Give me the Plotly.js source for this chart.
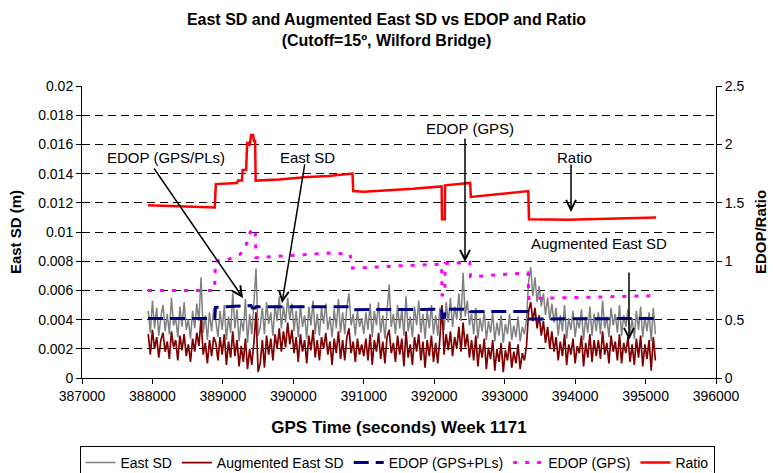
<!DOCTYPE html>
<html>
<head>
<meta charset="utf-8">
<script src="https://cdn.plot.ly/plotly-3.0.1.min.js"></script>
<style>html,body{margin:0;padding:0;background:#fff}#chart{width:773px;height:473px}</style>
</head>
<body>
<div id="chart"></div>
<script>
// Noisy series: sampled every 30 s starting at 387940 s (values in mm)
const sdStartTime = 387940;
const sdInterval = 30;
const eastSdMm = [
  4.6,3.1,5.3,3.4,4.8,2.9,4.2,5.0,3.2,4.4, 3.0,5.5,3.6,4.1,2.8,4.9,3.5,5.2,3.3,4.0, 2.7,4.6,3.4,5.1,3.9,6.9,3.1,4.3,2.6,4.5,3.2,4.8,
  3.9,2.8,4.6,3.3,5.0,2.6,4.2,3.1,5.8,3.4, 4.7,2.5,4.0,3.2,5.4,2.4,4.4,3.0,5.1,7.5, 2.9,
  3.5,4.8,3.0,5.2,3.7,4.5,2.9,5.0,3.9,5.6, 3.4,4.9,3.8,5.5,4.0,5.1,
  3.2,4.6,2.8,5.0,3.5,4.3,2.7,4.9,3.6,5.3, 3.0,4.4,2.9,4.8,3.7,5.1,3.3,4.2,2.8,4.7, 3.4,5.4,3.1,4.5,3.0,4.9,5.8,3.6,4.4,2.9, 4.6,3.5,4.1,
  3.0,4.5,3.3,5.1,2.8,4.6,3.6,5.2,3.1,4.3, 2.7,4.8,6.4,3.5,4.4,3.0,5.0,3.4,4.7,2.9, 5.6,3.2,4.2,2.8,4.9,3.6,5.3,3.1,4.4,2.7, 4.6,3.4,5.0,3.0,4.3,2.9,4.8,
  4.5,3.3,5.2,3.8,5.5,3.5,4.9,4.0,5.8,3.9,7.2,4.2,5.3,3.6,
  4.4,3.0,4.8,2.7,4.1,3.2,4.6,2.6,3.9,3.1, 4.5,2.5,3.8,2.9,4.3,2.4,3.7,3.0,4.4,2.6, 3.6,2.8,4.2,2.5,3.5,3.0,4.0,
  6.6,7.6,5.6,6.9,5.2,6.3,4.9,5.8,4.3,5.5,4.0,5.1,3.8,
  4.8,2.9,4.3,3.2,5.0,2.7,4.1,3.3,4.6,2.8, 4.0,3.4,4.7,2.6,4.2,3.1,4.9,2.9,4.4,3.2,
  4.5,3.0,5.3,3.4,4.2,2.8,4.8,3.6,4.4,3.1, 5.0,2.9,4.3,3.5,4.7,3.0,4.1,2.7,4.6,3.3, 4.9,2.8,4.2,3.2,4.5,2.5,4.8,3.0
];
const augEastSdMm = [
  3.0,1.6,3.3,2.0,2.8,1.4,2.6,3.1,1.8,2.5, 1.3,3.2,2.1,2.6,1.2,2.9,1.9,3.0,1.5,2.3, 1.1,2.7,1.8,3.1,2.2,4.1,1.6,2.4,1.0,2.6,1.5,2.8,
  2.4,1.2,2.8,1.6,3.0,0.9,2.5,1.4,3.2,1.5, 2.6,0.8,2.2,1.1,2.7,0.6,2.0,0.9,2.4,4.5, 0.4,
  1.0,2.6,0.7,2.9,1.6,2.7,1.2,3.0,2.0,3.4, 1.8,3.2,2.1,3.8,2.3,3.3,
  1.7,2.8,1.1,3.0,1.8,2.6,1.0,2.9,1.9,3.3, 1.4,2.6,1.2,2.8,2.0,3.1,1.6,2.5,0.9,2.7, 1.7,3.2,1.3,2.6,1.2,2.8,3.4,1.7,2.5,1.1, 2.7,1.6,2.3,
  1.5,2.7,1.2,3.0,0.9,2.6,1.8,3.1,1.3,2.5, 1.0,2.8,3.3,1.7,2.4,1.1,2.9,1.6,2.7,0.8, 3.2,1.4,2.3,0.9,2.8,1.8,3.0,1.2,2.5,0.7, 2.6,1.5,2.9,1.1,2.4,1.0,2.7,
  5.0,1.6,3.0,1.9,3.2,1.5,2.8,2.0,3.5,1.8,3.8,2.1,3.0,1.4,
  2.6,1.2,2.9,0.8,2.3,1.4,2.7,0.6,2.1,1.3, 2.6,0.5,2.0,1.1,2.4,0.4,1.9,1.2,2.5,0.7, 1.8,1.0,2.3,0.6,1.7,1.2,2.2,
  4.6,5.2,3.9,4.8,3.4,4.3,2.9,3.9,2.4,3.5,2.0,3.2,1.8,
  2.8,1.2,2.5,1.5,3.0,0.9,2.3,1.6,2.7,1.0, 2.2,1.7,2.9,0.8,2.4,1.4,3.0,1.1,2.6,1.5,
  2.6,1.3,3.2,1.6,2.4,1.0,2.9,1.8,2.5,1.2, 3.0,1.0,2.4,1.7,2.8,1.1,2.3,0.9,2.7,1.4, 2.9,0.8,2.3,1.3,2.6,0.5,2.8,1.2
];

// Step series (right axis)
const ratioTime = [387937,388400,388885,388900,389200,389215,389270,389280,389330,389345,389380,389400,389430,389440,389458,389465,389800,390200,390500,390840,390850,391000,391300,391700,392105,392110,392150,392155,392510,392520,393335,393345,393900,395150];
const ratioValue = [1.48,1.47,1.46,1.66,1.67,1.69,1.69,1.78,1.78,2.02,1.99,2.08,2.08,2.03,2.03,1.69,1.70,1.72,1.73,1.75,1.60,1.595,1.605,1.62,1.64,1.36,1.36,1.65,1.67,1.55,1.60,1.36,1.355,1.375];

const edopGpsTime = [387937,388880,388895,389100,389250,389330,389370,389410,389450,389460,389470,390000,390500,390805,390840,391500,392105,392110,392150,392155,392505,392515,393330,393345,395150];
const edopGpsValue = [0.75,0.75,1.00,1.02,1.06,1.14,1.22,1.28,1.26,1.26,1.03,1.05,1.07,1.06,0.94,0.96,0.975,0.71,0.71,0.98,0.99,0.867,0.90,0.68,0.705];

const edopPlsTime = [387937,388885,388895,389250,389400,389420,389460,389470,390805,390840,392105,392110,392150,392155,392505,392515,393330,393345,395150];
const edopPlsValue = [0.51,0.51,0.605,0.615,0.62,0.60,0.60,0.61,0.61,0.585,0.588,0.52,0.52,0.588,0.588,0.568,0.57,0.505,0.51];

const seriesNames = ['East SD','Augmented East SD','EDOP (GPS+PLs)','EDOP (GPS)','Ratio'];

const sdTimes = eastSdMm.map((_, i) => sdStartTime + i * sdInterval);
const toMetres = a => a.map(v => v / 1000);

const FONT = 'Arial, "Liberation Sans", sans-serif';

const traces = [
  {x: sdTimes, y: toMetres(eastSdMm), name: seriesNames[0], type: 'scatter', mode: 'lines',
   line: {color: '#808080', width: 1.5}, yaxis: 'y'},
  {x: sdTimes, y: toMetres(augEastSdMm), name: seriesNames[1], type: 'scatter', mode: 'lines',
   line: {color: '#800000', width: 1.7}, yaxis: 'y'},
  {x: edopPlsTime, y: edopPlsValue, name: seriesNames[2], type: 'scatter', mode: 'lines',
   line: {color: '#000080', width: 3, dash: '15px,7px'}, yaxis: 'y2'},
  {x: edopGpsTime, y: edopGpsValue, name: seriesNames[3], type: 'scatter', mode: 'lines',
   line: {color: '#ff00ff', width: 3, dash: '4px,8px'}, yaxis: 'y2'},
  {x: ratioTime, y: ratioValue, name: seriesNames[4], type: 'scatter', mode: 'lines',
   line: {color: '#ff0000', width: 2.5}, yaxis: 'y2'}
];

function px2paperX(px){ return (px - 82) / 634; }
function px2paperY(py){ return (378 - py) / 292; }

const labelDefs = [
  {text: 'EDOP (GPS/PLs)', px: 166, py: 157},
  {text: 'East SD', px: 307, py: 157},
  {text: 'EDOP (GPS)', px: 470, py: 128},
  {text: 'Ratio', px: 574, py: 157},
  {text: 'Augmented East SD', px: 599, py: 243}
];
const arrowDefs = [
  {x: 389286, y: 0.00548, ax: -90, ay: -131},
  {x: 389839, y: 0.00514, ax: 23, ay: -140},
  {x: 392437, y: 0.00795, ax: 0, ay: -125},
  {x: 393942, y: 0.01137, ax: 0, ay: -49},
  {x: 394765, y: 0.0026, ax: 0, ay: -69}
];

const annotations = [];
labelDefs.forEach(d => annotations.push({
  text: d.text, xref: 'paper', yref: 'paper', x: px2paperX(d.px), y: px2paperY(d.py),
  xanchor: 'center', yanchor: 'middle', showarrow: false,
  font: {family: FONT, size: 15, color: '#000'}
}));
arrowDefs.forEach(d => annotations.push({
  text: '', xref: 'x', yref: 'y', x: d.x, y: d.y, ax: d.ax, ay: d.ay,
  showarrow: true, arrowhead: 5, arrowsize: 1.3, arrowwidth: 1.5, arrowcolor: '#000'
}));

const layout = {
  width: 773, height: 473,
  margin: {l: 82, r: 57, t: 86, b: 95, autoexpand: false},
  paper_bgcolor: '#fff', plot_bgcolor: '#fff',
  font: {family: FONT, size: 14, color: '#000'},
  title: {
    text: '<b>East SD and Augmented East SD vs EDOP and Ratio<br>(Cutoff=15º, Wilford Bridge)</b>',
    font: {family: FONT, size: 16, color: '#000'},
    x: 0.5, xanchor: 'center', xref: 'container',
    y: 0.947, yanchor: 'top', yref: 'container'
  },
  showlegend: true,
  legend: {
    orientation: 'h', xref: 'paper', yref: 'paper',
    x: px2paperX(397), xanchor: 'center', y: px2paperY(446), yanchor: 'top',
    bordercolor: '#000', borderwidth: 1, bgcolor: '#fff',
    font: {family: FONT, size: 14, color: '#000'}, itemwidth: 30, tracegroupgap: 0
  },
  xaxis: {
    range: [387000, 396000], dtick: 1000, tick0: 387000, tickformat: 'd', exponentformat: 'none',
    showline: true, linecolor: '#000', linewidth: 1, ticks: 'outside', ticklen: 5, tickcolor: '#000',
    showgrid: false, zeroline: false, automargin: false,
    tickfont: {family: FONT, size: 14, color: '#000'},
    title: {text: '<b>GPS Time (seconds) Week 1171</b>', font: {family: FONT, size: 17, color: '#000'}, standoff: 18}
  },
  yaxis: {
    range: [0, 0.02], dtick: 0.002, tick0: 0,
    showline: true, linecolor: '#000', linewidth: 1, ticks: 'outside', ticklen: 5, tickcolor: '#000',
    showgrid: true, gridcolor: '#000', gridwidth: 1, griddash: '8px,5px', zeroline: false, automargin: false,
    tickfont: {family: FONT, size: 14, color: '#000'},
    title: {text: '<b>East SD (m)</b>', font: {family: FONT, size: 15, color: '#000'}, standoff: 12}
  },
  yaxis2: {
    range: [0, 2.5], dtick: 0.5, tick0: 0, overlaying: 'y', side: 'right',
    showline: true, linecolor: '#000', linewidth: 1, ticks: 'outside', ticklen: 5, tickcolor: '#000',
    showgrid: false, zeroline: false, automargin: false,
    tickfont: {family: FONT, size: 14, color: '#000'},
    title: {text: '<b>EDOP/Ratio</b>', font: {family: FONT, size: 15, color: '#000'}, standoff: 12}
  },
  annotations: annotations
};

Plotly.newPlot('chart', traces, layout, {displayModeBar: false, staticPlot: true});
</script>
</body>
</html>
